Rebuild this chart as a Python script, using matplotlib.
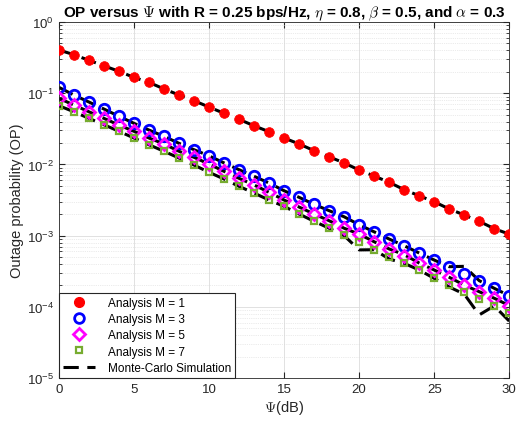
import numpy as np
import matplotlib
matplotlib.use('Agg')
from matplotlib import pyplot as plt, ticker

plt.rcParams['font.family'] = ['Liberation Sans', 'DejaVu Sans']
plt.rcParams['mathtext.fontset'] = 'cm'

# SNR axis (dB)
psi_db = list(range(0, 31))

# analysis curves
op_m1 = [0.405, 0.348, 0.290, 0.243, 0.203, 0.167, 0.142, 0.115, 0.0944, 0.0785,
         0.0640, 0.0522, 0.0430, 0.0349, 0.0288, 0.0235, 0.0194, 0.0156, 0.0128, 0.0105,
         0.00834, 0.00687, 0.00561, 0.00442, 0.00363, 0.00299, 0.00237, 0.00195, 0.00159, 0.00125,
         0.00105]
op_m3 = [0.121, 0.0944, 0.0752, 0.0600, 0.0474, 0.0378, 0.0304, 0.0248, 0.0198, 0.0161,
         0.0132, 0.0105, 0.00843, 0.00681, 0.00548, 0.00427, 0.00345, 0.00275, 0.00224, 0.00184,
         0.00142, 0.00113, 0.000896, 0.000721, 0.000570, 0.000454, 0.000366, 0.000289, 0.000233, 0.000182,
         0.000143]
op_m5 = [0.0848, 0.0683, 0.0549, 0.0444, 0.0357, 0.0292, 0.0235, 0.0194, 0.0153, 0.0126,
         0.0101, 0.00800, 0.00638, 0.00514, 0.00406, 0.00316, 0.00252, 0.00201, 0.00162, 0.00127,
         0.00105, 0.000820, 0.000650, 0.000512, 0.000412, 0.000329, 0.000260, 0.000202, 0.000163, 0.000132,
         0.000104]
op_m7 = [0.0668, 0.0549, 0.0444, 0.0361, 0.0292, 0.0235, 0.0189, 0.0153, 0.0123, 0.00980,
         0.00775, 0.00624, 0.00492, 0.00396, 0.00316, 0.00258, 0.00201, 0.00159, 0.00127, 0.00103,
         0.000805, 0.000634, 0.000506, 0.000408, 0.000329, 0.000251, 0.000202, 0.000163, 0.000129, 0.000102,
         0.0000810]

# Monte-Carlo curves (noisy at high SNR)
sim_m1 = [0.405, 0.348, 0.290, 0.243, 0.203, 0.167, 0.142, 0.115, 0.0944, 0.0785,
          0.0640, 0.0522, 0.0430, 0.0349, 0.0288, 0.0235, 0.0194, 0.0156, 0.0128, 0.0105,
          0.00834, 0.00687, 0.00561, 0.00442, 0.00363, 0.00299, 0.00237, 0.00195, 0.00159, 0.00125,
          0.00105]
sim_m3 = [0.121, 0.0944, 0.0752, 0.0600, 0.0474, 0.0378, 0.0304, 0.0248, 0.0198, 0.0161,
          0.0132, 0.0105, 0.00843, 0.00681, 0.00548, 0.00427, 0.00345, 0.00275, 0.00224, 0.00184,
          0.00142, 0.00113, 0.000896, 0.000721, 0.000570, 0.000454, 0.000366, 0.000370, 0.000233, 0.000182,
          0.000143]
sim_m5 = [0.0848, 0.0683, 0.0549, 0.0444, 0.0357, 0.0292, 0.0235, 0.0194, 0.0153, 0.0126,
          0.0101, 0.00800, 0.00638, 0.00514, 0.00406, 0.00316, 0.00252, 0.00201, 0.00162, 0.00127,
          0.00105, 0.000820, 0.000650, 0.000540, 0.000412, 0.000329, 0.000260, 0.000202, 0.000163, 0.000132,
          0.000104]
sim_m7 = [0.0668, 0.0549, 0.0444, 0.0361, 0.0292, 0.0235, 0.0189, 0.0153, 0.0123, 0.00980,
          0.00775, 0.00624, 0.00492, 0.00396, 0.00316, 0.00258, 0.00201, 0.00159, 0.00127, 0.00100,
          0.000630, 0.000634, 0.000470, 0.000408, 0.000329, 0.000251, 0.000190, 0.000151, 0.0000770, 0.000103,
          0.0000630]

labels = ['Analysis M = 1', 'Analysis M = 3', 'Analysis M = 5', 'Analysis M = 7']

DASH = (0, (5, 2.8))

fig = plt.figure(figsize=(5.17, 4.27), dpi=100)
ax = fig.add_axes([0.114, 0.1124, 0.871, 0.8336])

# simulation lines first, markers on top
for sim in [sim_m1, sim_m3, sim_m5, sim_m7]:
    ax.plot(psi_db, sim, color='k', ls=DASH, lw=2.2, zorder=2)

ax.plot(psi_db, op_m1, 'o', ms=7, mfc='red', mec='red', mew=0.5, ls='none', zorder=3)
ax.plot(psi_db, op_m3, 'o', ms=7.5, mfc='none', mec='blue', mew=2, ls='none', zorder=3)
ax.plot(psi_db, op_m5, 'D', ms=6.5, mfc='none', mec='magenta', mew=2, ls='none', zorder=3)
ax.plot(psi_db, op_m7, 's', ms=5, mfc='none', mec='#77AC30', mew=1.6, ls='none', zorder=3)

# legend built from proxy handles
handles = [
    plt.Line2D([], [], marker='o', ms=7, mfc='red', mec='red', ls='none'),
    plt.Line2D([], [], marker='o', ms=7, mfc='none', mec='blue', mew=2, ls='none'),
    plt.Line2D([], [], marker='D', ms=6, mfc='none', mec='magenta', mew=2, ls='none'),
    plt.Line2D([], [], marker='s', ms=5, mfc='none', mec='#77AC30', mew=1.6, ls='none'),
    plt.Line2D([], [], color='k', ls=DASH, lw=2.2),
]
leg = ax.legend(handles, labels + ['Monte-Carlo Simulation'], loc='lower left',
                fontsize=8.5, frameon=True, fancybox=False, framealpha=1,
                borderaxespad=0, handlelength=2.7, handletextpad=1.1,
                labelspacing=0.36, borderpad=0.35)
leg.get_frame().set_edgecolor('#262626')
leg.get_frame().set_linewidth(0.8)

# axis format
ax.set_yscale('log')
ax.set_xlim(0, 30)
ax.set_ylim(1e-5, 1)
ax.set_xticks([0, 5, 10, 15, 20, 25, 30])
ax.yaxis.set_major_locator(ticker.LogLocator(base=10, numticks=10))
ax.yaxis.set_minor_locator(ticker.LogLocator(base=10, subs=np.arange(2, 10), numticks=20))
ax.yaxis.set_minor_formatter(ticker.NullFormatter())
ax.tick_params(which='both', direction='in', top=True, right=True,
               colors='#262626', labelsize=9.5)
ax.tick_params(which='major', length=4)
ax.tick_params(which='minor', length=2)
ax.grid(True, which='major', color='#dcdcdc', lw=0.6)
ax.grid(True, which='minor', axis='y', color='#d8d8d8', lw=0.5, ls=':')
ax.set_axisbelow(True)
for sp in ax.spines.values():
    sp.set_color('#262626')
    sp.set_linewidth(0.6)

ax.set_xlabel(r'$\Psi$(dB)', fontsize=10.5, color='#262626', labelpad=2)
ax.set_ylabel('Outage probability (OP)', fontsize=10.5, color='#262626', labelpad=2)
ax.set_title(r'OP versus $\Psi$ with R = 0.25 bps/Hz, $\eta$ = 0.8, $\beta$ = 0.5, and $\alpha$ = 0.3',
             fontsize=11, fontweight='bold', pad=4)

fig.savefig('out.png', dpi=100)
